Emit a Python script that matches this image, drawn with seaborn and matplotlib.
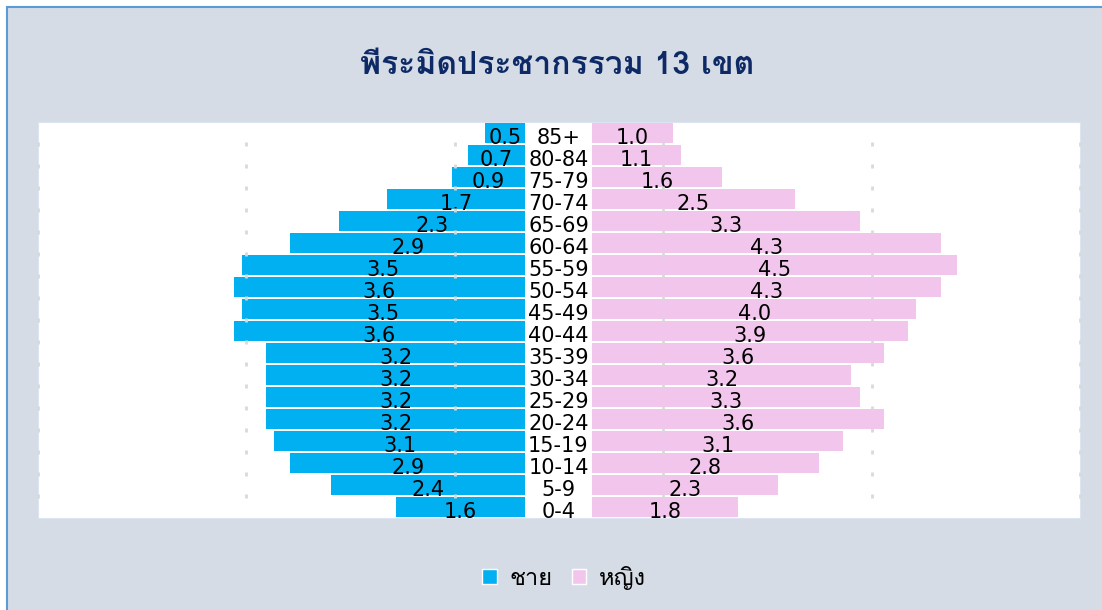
import numpy as np
import pandas as pd
import matplotlib.pyplot as plt
import seaborn as sns
from matplotlib import font_manager, ft2font
from matplotlib.patches import Rectangle, Patch
from matplotlib.transforms import blended_transform_factory

# ~~~~~~~~~~~~~ data ~~~~~~~~~~~~~
age_groups = ['85+', '80-84', '75-79', '70-74', '65-69', '60-64', '55-59', '50-54', '45-49',
              '40-44', '35-39', '30-34', '25-29', '20-24', '15-19', '10-14', '5-9', '0-4']
male = [0.5, 0.7, 0.9, 1.7, 2.3, 2.9, 3.5, 3.6, 3.5, 3.6, 3.2, 3.2, 3.2, 3.2, 3.1, 2.9, 2.4, 1.6]
female = [1.0, 1.1, 1.6, 2.5, 3.3, 4.3, 4.5, 4.3, 4.0, 3.9, 3.6, 3.2, 3.3, 3.6, 3.1, 2.8, 2.3, 1.8]
title = 'พีระมิดประชากรรวม 13 เขต'
male_label = 'ชาย'
female_label = 'หญิง'

male_color = '#00B0F0'
female_color = '#F2C6EC'

# find a font that has Thai glyphs
thai_font = None
for f in font_manager.fontManager.ttflist:
    try:
        cmap = ft2font.FT2Font(f.fname).get_charmap()
    except Exception:
        continue
    if 0x0E0A in cmap:
        thai_font = f.name
        break
families = [thai_font, 'DejaVu Sans'] if thai_font else ['DejaVu Sans']

sns.set_style('white')
plt.rcParams['font.family'] = families
plt.rcParams['text.color'] = 'black'

df = pd.DataFrame({'age': age_groups, 'male': male, 'female': female})

W, H = 1102, 610
fig = plt.figure(figsize=(W / 100, H / 100), dpi=100, facecolor='white')
fig.patches.append(Rectangle((7 / W, -0.02), 1.1, 1 - 7 / H + 0.02, transform=fig.transFigure,
                             facecolor='#D6DCE5', edgecolor='#5B9BD5', lw=1.5, zorder=-10))

def px_axes(x0, x1, y0, y1):
    return fig.add_axes([x0 / W, 1 - y1 / H, (x1 - x0) / W, (y1 - y0) / H])

n = len(age_groups)
ylim = (n - 0.5, -0.5)

# white plot area
bg = px_axes(38, 1080, 122, 518)
bg.set_facecolor('white')
bg.set_xlim(0, 5)
bg.set_ylim(ylim)
bg.set_xticks([])
bg.set_yticks([])
for s in bg.spines.values():
    s.set_color('#DCE4F2')

axL = px_axes(38, 525, 122, 518)
axR = px_axes(592, 1080, 122, 518)
sns.barplot(data=df, x='male', y='age', ax=axL, color=male_color, width=0.87, orient='h',
            saturation=1, edgecolor='none')
sns.barplot(data=df, x='female', y='age', ax=axR, color=female_color, width=0.87, orient='h',
            saturation=1, edgecolor='none')
axL.set_xlim(6.02, 0)
axR.set_xlim(0, 6.02)
for ax in (axL, axR):
    ax.set_ylim(ylim)
    ax.patch.set_visible(False)
    ax.set_xticks([])
    ax.set_yticks([])
    ax.set_xlabel('')
    ax.set_ylabel('')
    for s in ax.spines.values():
        s.set_visible(False)

# grid dots, only seen in the gaps between bars
grid = px_axes(38, 1080, 122, 518)
grid.set_xlim(0, 5)
grid.set_ylim(ylim)
grid.axis('off')
for gx in range(6):
    grid.plot([gx] * (n - 1), np.arange(n - 1) + 0.5, ls='none', marker='|', ms=3, mew=2,
              color='#D9D9D9', clip_on=False)

# value labels in the middle of each bar, age labels in the centre gap
for i, (m, f) in enumerate(zip(male, female)):
    axL.text(m / 2, i + 0.22, f'{m:.1f}', ha='center', va='center', fontsize=15,
             family='DejaVu Sans', zorder=5)
    axR.text(f / 2, i + 0.22, f'{f:.1f}', ha='center', va='center', fontsize=15,
             family='DejaVu Sans', zorder=5)
trans = blended_transform_factory(fig.transFigure, axL.transData)
for i, a in enumerate(age_groups):
    axL.text(558.5 / W, i + 0.22, a, transform=trans, ha='center', va='center', fontsize=15,
             family='DejaVu Sans', clip_on=False)

fig.text(557 / W, 1 - 66 / H, title, ha='center', va='center', fontsize=23,
         fontweight='bold', color='#0E2A66')

handles = [Patch(facecolor=male_color, label=male_label),
           Patch(facecolor=female_color, label=female_label)]
fig.legend(handles=handles, loc='center', bbox_to_anchor=(564 / W, 1 - 578 / H), ncol=2,
           frameon=False, fontsize=17, handlelength=0.62, handleheight=0.62,
           handletextpad=0.55, columnspacing=0.8)

fig.savefig('out.png', dpi=100, facecolor=fig.get_facecolor())
